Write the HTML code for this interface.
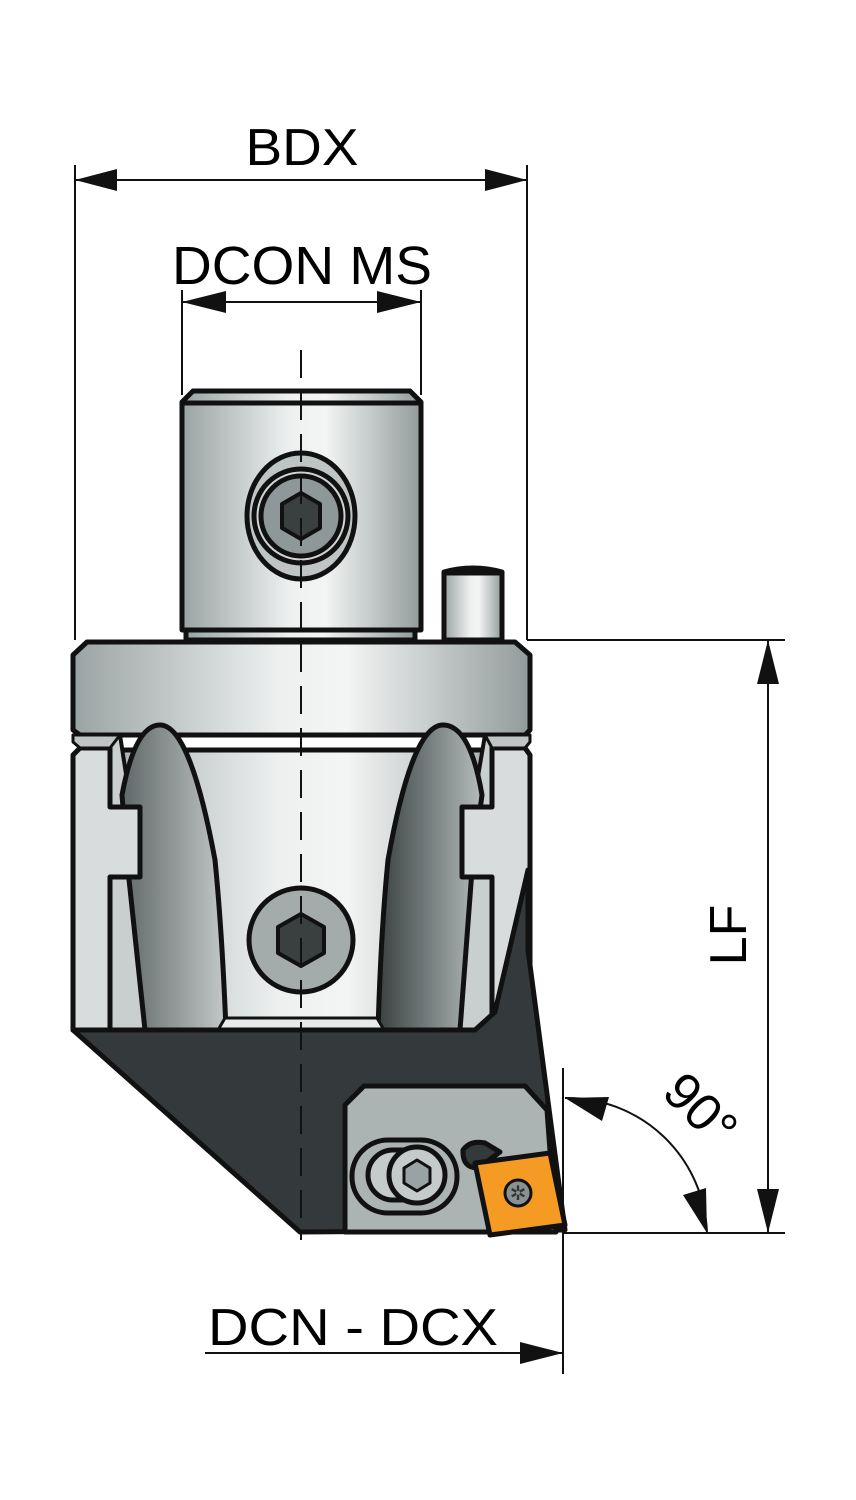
<!DOCTYPE html>
<html><head><meta charset="utf-8"><style>html,body{margin:0;padding:0;background:#fff}svg{display:block}</style></head>
<body>
<svg width="856" height="1500" viewBox="0 0 856 1500" xmlns="http://www.w3.org/2000/svg" font-family="Liberation Sans, sans-serif">
<defs>
<linearGradient id="g1" x1="0" x2="1" y1="0" y2="0">
<stop offset="0" stop-color="#9aa3a3"/><stop offset="0.45" stop-color="#eef0f0"/><stop offset="0.6" stop-color="#f3f4f4"/><stop offset="1" stop-color="#929b9b"/></linearGradient>
<linearGradient id="g2" x1="0" x2="1"><stop offset="0" stop-color="#5f6868"/><stop offset="1" stop-color="#c3c8c8"/></linearGradient>
<linearGradient id="g3" x1="0" x2="1"><stop offset="0" stop-color="#3a4040"/><stop offset="0.4" stop-color="#6a7373"/><stop offset="1" stop-color="#b5bcbc"/></linearGradient>
</defs>
<g stroke="#111" stroke-width="2" fill="none">
<line x1="75" y1="165" x2="75" y2="640"/>
<line x1="527" y1="165" x2="527" y2="640"/>
<line x1="75" y1="180" x2="527" y2="180"/>
<line x1="182" y1="290" x2="182" y2="395"/>
<line x1="421" y1="290" x2="421" y2="395"/>
<line x1="182" y1="302" x2="421" y2="302"/>
<line x1="527" y1="640" x2="785" y2="640"/>
<line x1="563" y1="1233" x2="785" y2="1233"/>
<line x1="768" y1="640" x2="768" y2="1233"/>
<line x1="563" y1="1068" x2="563" y2="1374"/>
<line x1="205" y1="1353" x2="563" y2="1353"/>
<path d="M565 1098 A140 140 0 0 1 707 1233"/>
</g>
<g fill="#111">
<polygon points="75,180 117,169 117,191"/><polygon points="527,180 485,169 485,191"/>
<polygon points="182,302 226,291 226,313"/><polygon points="421,302 377,291 377,313"/>
<polygon points="768,640 757,684 779,684"/><polygon points="768,1233 757,1189 779,1189"/>
<polygon points="563,1353 520,1342 520,1364"/>
<polygon points="565,1098 609,1097 602,1121"/>
<polygon points="707,1233 683,1195 706,1188"/>
</g>
<text x="302" y="165" font-size="52" text-anchor="middle" textLength="113" lengthAdjust="spacingAndGlyphs">BDX</text>
<text x="302" y="284" font-size="54" text-anchor="middle" textLength="260" lengthAdjust="spacingAndGlyphs">DCON MS</text>
<text x="353" y="1345" font-size="52" text-anchor="middle" textLength="290" lengthAdjust="spacingAndGlyphs">DCN - DCX</text>
<text transform="translate(746,935) rotate(-90)" font-size="52" text-anchor="middle">LF</text>
<text transform="translate(688,1122) rotate(45)" font-size="52" text-anchor="middle">90°</text>

<g stroke="#111" stroke-width="5" stroke-linejoin="round">
<polygon points="186,625 415,625 415,640 186,640" fill="url(#g1)"/>
<polygon points="182,402 193,391 410,391 421,402 421,630 182,630" fill="url(#g1)"/>
<line x1="182" y1="403" x2="421" y2="403"/>
<path d="M444 640 V572 Q473 564 502 572 V640 Z" fill="url(#g1)"/>
<line x1="444" y1="573" x2="502" y2="573"/>
<polygon points="73,760 80,750 525,750 530,760 530,1030 73,1030" fill="url(#g1)"/>
<polygon points="73,655 87,642 515,642 530,655 530,730 525,735 80,735 73,730" fill="url(#g1)"/>
<polygon points="110,735 120,735 130,800 146,1030 110,1030" fill="#c9cece" stroke-width="4"/>
<polygon points="492,735 485,735 474,800 460,1030 478,1030 492,1015" fill="#c9cece" stroke-width="4"/>
<path d="M122 795 Q135 725 160 725 Q190 725 215 860 Q222 930 226 1030 L145 1030 L128 870 Z" fill="url(#g2)"/>
<path d="M482 795 Q470 725 443 725 Q412 725 388 860 Q381 930 378 1030 L460 1030 L472 870 Z" fill="url(#g3)"/>
<polygon points="73,755 80,748 110,748 110,807 140,807 140,877 110,877 110,1030 73,1030" fill="#d8dcdc"/>
<polygon points="530,755 525,748 492,748 492,807 462,807 462,877 492,877 492,1015 530,950" fill="#d8dcdc"/>
<polygon points="73,735 120,735 110,748 80,748 73,742" fill="#bfc5c5" stroke-width="3"/>
<polygon points="485,735 530,735 530,742 525,748 492,748" fill="#bfc5c5" stroke-width="3"/>
<polygon points="225,1018 377,1018 384,1030 218,1030" fill="#e8eaea" stroke-width="3"/>
<polygon points="73,1030 475,1030 495,1012 528,870 528,950 565,1230 300,1232" fill="#343a3b"/>
<polygon points="345,1105 364,1086 525,1086 547,1110 556,1232 345,1232" fill="#abb3b3"/>
<rect x="352" y="1140" width="105" height="73" rx="36" fill="#abb3b3"/>
<rect x="368" y="1150" width="70" height="50" rx="25" fill="#c5cbcb"/>
<circle cx="417" cy="1175" r="28" fill="#c5cbcb"/>
<polygon points="417,1160 430,1168 430,1183 417,1191 404,1183 404,1168" fill="#9aa3a3" stroke-width="3"/>
<path d="M463 1150 Q470 1140 485 1143 L500 1152 L478 1168 Q462 1168 463 1150 Z" fill="#343a3b"/>
<polygon points="475,1163 550,1153 565,1225 490,1235" fill="#f59a23"/>
<circle cx="518" cy="1193" r="13" fill="#8a9191" stroke-width="3"/>
<circle cx="301" cy="940" r="52" fill="#a3abab"/>
<polygon points="301,914 324,927 324,953 301,966 278,953 278,927" fill="#3a4040" stroke-width="4"/>
<ellipse cx="301" cy="516" rx="54" ry="63" fill="#bfc5c5"/>
<circle cx="301" cy="516" r="47" fill="#cfd4d4"/>
<circle cx="301" cy="516" r="40" fill="#8f9898"/>
<polygon points="301,493 320,504 320,528 301,539 282,528 282,504" fill="#3a4040" stroke-width="4"/>
</g>
<text x="518" y="1200" font-size="20" text-anchor="middle" fill="#333">✲</text>
<g stroke="#111" stroke-width="2" stroke-dasharray="28,14">
<line x1="301" y1="350" x2="301" y2="1240"/>
</g>
</svg>
</body></html>
